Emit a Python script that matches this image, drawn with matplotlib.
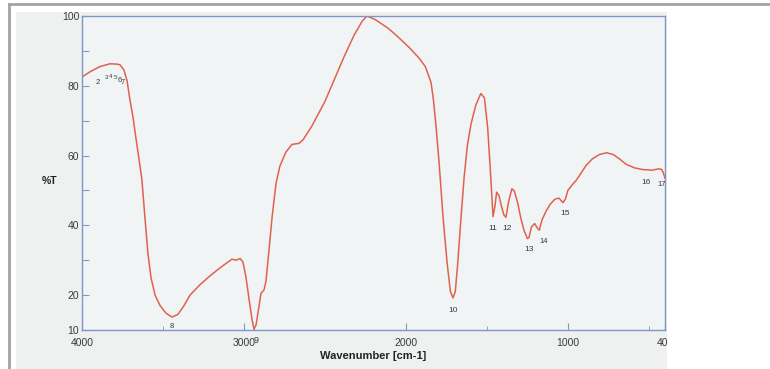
import matplotlib.pyplot as plt
from matplotlib.patches import Rectangle
from matplotlib.lines import Line2D

# spectrum: wavenumber [cm-1] and %T
wavenumber = [4000, 3951, 3889, 3827, 3784, 3765, 3741, 3722, 3704, 3685, 3667,
              3648, 3630, 3611, 3593, 3574, 3549, 3518, 3481, 3444, 3407, 3370,
              3333, 3271, 3210, 3148, 3098, 3074, 3049, 3024, 3006, 2987, 2969,
              2950, 2938, 2925, 2913, 2895, 2876, 2864, 2845, 2827, 2802, 2778,
              2741, 2703, 2660, 2635, 2580, 2500, 2440, 2380, 2320, 2270, 2240,
              2190, 2110, 2060, 1980, 1920, 1880, 1845, 1830, 1815, 1795, 1770,
              1745, 1725, 1709, 1695, 1680, 1660, 1640, 1620, 1598, 1568, 1537,
              1515, 1495, 1480, 1470, 1462, 1450, 1440, 1425, 1410, 1395, 1382,
              1365, 1345, 1330, 1310, 1290, 1270, 1250, 1240, 1225, 1205, 1185,
              1176, 1160, 1135, 1110, 1080, 1055, 1030, 1015, 1000, 975, 950,
              925, 890, 850, 805, 760, 720, 680, 640, 590, 540, 480, 440, 420,
              410, 400]
transmittance = [82.5, 84.0, 85.5, 86.3, 86.2, 86.0, 84.5, 81.5, 76.0, 71.0, 65.0,
                 59.0, 53.0, 42.0, 32.0, 25.0, 20.0, 17.0, 14.8, 13.7, 14.5, 17.0,
                 20.0, 23.0, 25.5, 27.8, 29.5, 30.3, 30.0, 30.5, 29.5, 25.0, 19.0,
                 13.0, 10.2, 11.5, 15.0, 20.5, 21.5, 24.0, 33.0, 42.0, 52.0, 57.0,
                 61.0, 63.2, 63.5, 64.5, 68.5, 75.5, 82.0, 88.5, 94.5, 98.5, 100.0,
                 99.0, 96.5, 94.5, 91.0, 88.0, 85.5, 81.0, 76.0, 69.0, 58.0, 42.0,
                 29.0, 21.0, 19.2, 21.0, 29.0, 42.0, 54.0, 63.0, 69.0, 74.5, 77.8,
                 76.5, 68.0, 57.0, 49.0, 42.5, 45.5, 49.5, 48.5, 45.5, 43.0, 42.3,
                 47.0, 50.5, 49.8, 46.5, 42.0, 38.5, 36.2, 36.5, 39.5, 40.5, 39.0,
                 38.6, 41.5, 44.0, 46.0, 47.5, 47.8, 46.5, 47.5, 50.0, 51.5, 52.8,
                 54.5, 57.0, 59.0, 60.3, 60.8, 60.3, 59.0, 57.5, 56.5, 56.0, 55.8,
                 56.2, 56.0, 55.0, 53.5]

# peak labels
peak_labels = ["2", "3", "4", "5", "6", "7", "8", "9", "10", "11", "12",
               "13", "14", "15", "16", "17"]
peak_x = [3901, 3846, 3821, 3796, 3765, 3747, 3444, 2922, 1709, 1462, 1376,
          1240, 1150, 1017, 517, 418]
peak_y = [81.0, 82.4, 82.6, 82.4, 81.5, 81.0, 10.9, 7.0, 15.5, 39.2, 39.0,
          33.0, 35.4, 43.3, 52.2, 51.6]
peak_size = [5.5, 4.5, 4.5, 4.5, 5.5, 5.5, 5.5, 6.5, 6, 6, 6, 6, 5.5, 6, 6, 5.5]

x_major = [4000, 3000, 2000, 1000, 400]
x_minor = [3500, 1500, 500]
y_labels = [10, 20, 40, 60, 80, 100]
y_ticks = [10, 20, 30, 40, 50, 60, 70, 80, 90, 100]

plt.rcParams["font.family"] = ["Liberation Sans", "DejaVu Sans"]

LINE = "#e0614e"
SPINE = "#7d97c6"
TEXT = "#3a3a3a"

fig = plt.figure(figsize=(7.7, 3.69), dpi=100)
W, H = 770, 369

# screenshot background and frame
fig.add_artist(Rectangle((16 / W, 0), (667 - 16) / W, 1 - 12 / H,
                         transform=fig.transFigure, facecolor="#eff1f1",
                         edgecolor="none", zorder=-5))
fig.add_artist(Line2D([9 / W, 9 / W], [0, 1 - 4 / H], transform=fig.transFigure,
                      color="#a4a4a4", lw=2.0, zorder=-4))
fig.add_artist(Line2D([9 / W, 1], [1 - 4 / H, 1 - 4 / H], transform=fig.transFigure,
                      color="#a4a4a4", lw=2.0, zorder=-4))

ax = fig.add_axes([82 / W, 1 - 330 / H, (665 - 82) / W, (330 - 16) / H])
ax.set_facecolor("#f1f4f5")
ax.plot(wavenumber, transmittance, color=LINE, lw=1.1)

ax.set_xlim(4000, 400)
ax.set_ylim(10, 100)

for s in ax.spines.values():
    s.set_color(SPINE)
    s.set_linewidth(1.0)

ax.set_xticks(x_major)
ax.set_xticklabels([str(v) for v in x_major])
ax.set_xticks(x_minor, minor=True)
ax.set_yticks(y_ticks)
ax.set_yticklabels([str(v) if v in y_labels else "" for v in y_ticks])
ax.tick_params(axis="both", which="major", direction="in", length=5,
               color=SPINE, labelcolor=TEXT, labelsize=7.5)
ax.tick_params(axis="x", which="minor", direction="in", length=3, color=SPINE)
ax.tick_params(axis="x", which="major", pad=6)
ax.tick_params(axis="y", which="major", pad=2)

for lab, x, y, fs in zip(peak_labels, peak_x, peak_y, peak_size):
    ax.text(x, y, lab, fontsize=fs, color=TEXT, ha="center", va="center",
            clip_on=False)

ax.set_xlabel("Wavenumber [cm-1]", fontsize=8, fontweight="bold", color="#222222",
              labelpad=2)
fig.text(50 / W, 1 - 181 / H, "%T", fontsize=7.5, fontweight="bold",
         color="#222222", ha="center", va="center")

# cropped right side of the screenshot
fig.add_artist(Rectangle((667 / W, 0), (W - 667) / W, 1 - 12 / H,
                         transform=fig.transFigure, facecolor="white",
                         edgecolor="none", zorder=10))

fig.savefig("out.png", dpi=100)
